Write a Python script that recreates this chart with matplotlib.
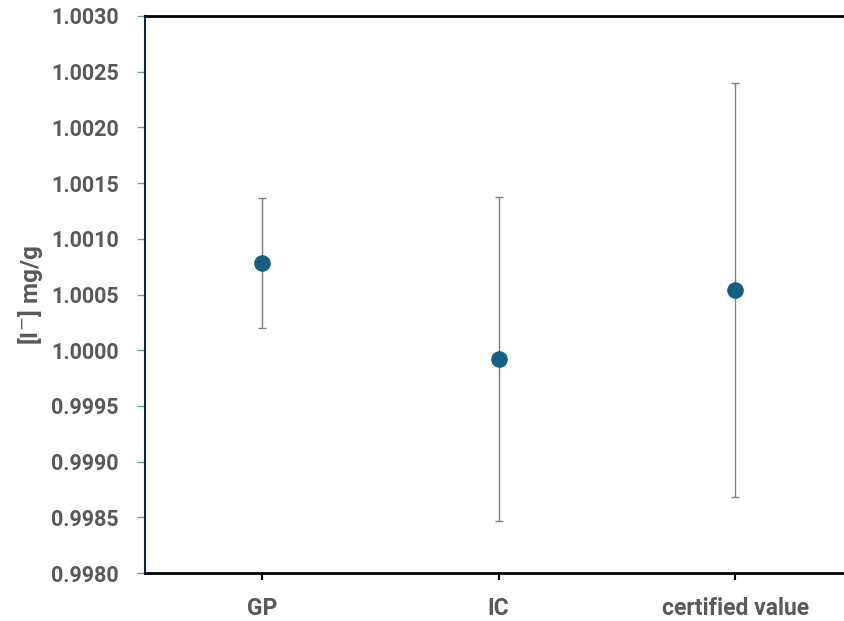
import matplotlib.pyplot as plt

# data
categories = ["GP", "IC", "certified value"]
values = [1.000783, 0.999921, 1.000540]
errors = [0.000580, 0.001450, 0.001860]
y_ticks = [0.9980, 0.9985, 0.9990, 0.9995, 1.0000, 1.0005, 1.0010, 1.0015, 1.0020, 1.0025, 1.0030]

plt.rcParams['font.family'] = ['Roboto', 'DejaVu Sans']

fig = plt.figure(figsize=(8.44, 6.21), dpi=100)
ax = fig.add_axes([145 / 844, 1 - 573 / 621, (844 - 145) / 844, (573 - 16) / 621])

x = list(range(len(categories)))
ax.errorbar(x, values, yerr=errors, fmt='none', ecolor='#7f7f7f', elinewidth=1.0,
            capsize=3, capthick=1.0, zorder=2)
ax.scatter(x, values, s=120, color='#156082', zorder=3)

ax.set_xlim(-0.495, 2.46)
ax.set_ylim(0.998, 1.003)
ax.set_xticks(x)
ax.set_xticklabels(categories)
ax.set_yticks(y_ticks)
ax.set_yticklabels([f"{v:.4f}" for v in y_ticks])

for lab in ax.get_xticklabels():
    lab.set_fontweight('bold')
    lab.set_color('#595959')
    lab.set_fontsize(16.5)
for lab in ax.get_yticklabels():
    lab.set_fontweight('bold')
    lab.set_color('#595959')
    lab.set_fontsize(15.5)

ax.tick_params(axis='x', direction='out', length=5, width=1.5, color='black', pad=12)
ax.tick_params(axis='y', direction='out', length=6, width=1, color='#6f9bb8', pad=13)

ax.spines['right'].set_visible(False)
ax.spines['top'].set_color('black')
ax.spines['top'].set_linewidth(2)
ax.spines['bottom'].set_color('black')
ax.spines['bottom'].set_linewidth(2)
ax.spines['left'].set_color('#0e2841')
ax.spines['left'].set_linewidth(1.5)

ax.set_ylabel("[I$^{-}$] mg/g", fontsize=17.5, fontweight='bold', color='#595959', labelpad=4)

fig.savefig("out.png", dpi=100)
